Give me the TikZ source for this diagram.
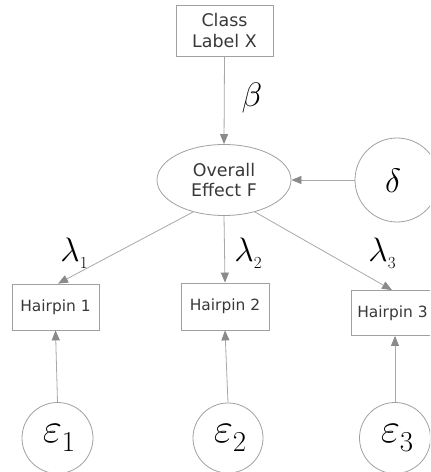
\RequirePackage{fix-cm}
\documentclass[tikz,border=0pt]{standalone}
\usepackage{fontspec}
\setmainfont{DejaVu Sans}
\usetikzlibrary{arrows.meta,shapes.geometric}
\definecolor{edgegray}{HTML}{A8A8A8}
\definecolor{tipgray}{HTML}{8A8A8A}
\definecolor{boxgray}{HTML}{A0A0A0}
\definecolor{txtgray}{HTML}{383838}
\newcommand{\grk}[1]{\fontsize{34}{36}\selectfont$#1$}
\newcommand{\lsub}[2]{\fontsize{34}{36}\selectfont$#1$\raisebox{-7bp}{\fontsize{17}{18}\selectfont$#2$}}
\newcommand{\esub}[2]{\fontsize{42}{44}\selectfont$#1$\raisebox{-9bp}{\fontsize{29}{30}\selectfont$#2$}}
\begin{document}
\begin{tikzpicture}[x=1bp,y=-1bp,
  boxnode/.style={draw=boxgray,line width=0.8bp,rectangle,text=txtgray,inner sep=0pt,align=center},
  ellnode/.style={draw=boxgray,line width=0.8bp,ellipse,text=txtgray,inner sep=0pt,align=center,minimum width=134bp,minimum height=71bp},
  circnode/.style={draw=boxgray,line width=0.8bp,circle,inner sep=0pt},
  greeklabel/.style={inner sep=0pt,text=black},
  link/.style={draw=edgegray,line width=0.8bp,-{Triangle[length=10bp,width=8bp,fill=tipgray,color=tipgray]}}]
\useasboundingbox (0,0) rectangle (430,472);
\begin{scope}
\clip (0,0) rectangle (430,472);
\node[boxnode,minimum width=97bp,minimum height=51bp,font=\fontsize{17.5}{21}\selectfont] (cls) at (224.5,30.5) {Class\\Label X};
\node[ellnode,font=\fontsize{17.5}{21}\selectfont] (F) at (224,180) {Overall\\Effect F};
\node[circnode,minimum size=84bp] (delta) at (397,180) {};
\node[greeklabel] (dlab) at (393,181) {\grk{\delta}};
\node[boxnode,minimum width=87bp,minimum height=46bp,font=\fontsize{15.5}{18}\selectfont] (h1) at (55.5,307) {Hairpin 1};
\node[boxnode,minimum width=88bp,minimum height=47bp,font=\fontsize{15.5}{18}\selectfont] (h2) at (225,306.5) {Hairpin 2};
\node[boxnode,minimum width=88bp,minimum height=45bp,font=\fontsize{15.5}{18}\selectfont] (h3) at (395,313) {\hspace*{-5bp}Hairpin 3};
\node[circnode,minimum size=71bp] (e1) at (57.5,438) {};
\node[circnode,minimum size=70bp] (e2) at (228,438) {};
\node[circnode,minimum size=71bp] (e3) at (395,438) {};
\node[greeklabel] (e1lab) at (59,438) {\esub{\varepsilon}{1}};
\node[greeklabel] (e2lab) at (230,438) {\esub{\varepsilon}{2}};
\node[greeklabel] (e3lab) at (397,438) {\esub{\varepsilon}{3}};
\node[greeklabel] (blab) at (252,98) {\grk{\beta}};
\node[greeklabel] (l1) at (74,253) {\lsub{\lambda}{1}};
\node[greeklabel] (l2) at (248,253) {\lsub{\lambda}{2}};
\node[greeklabel] (l3) at (382,253) {\lsub{\lambda}{3}};
\draw[link] (cls.south) -- (F.north);
\draw[link] (delta.west) -- (F.east);
\draw[link] (F.226) -- ([xshift=2.5bp]h1.north);
\draw[link] (F.south) -- (h2.north);
\draw[link] (F.-46) -- ([xshift=-3bp]h3.north);
\draw[link] (e1.north) -- (h1.south);
\draw[link] (e2.north) -- (h2.south);
\draw[link] (e3.north) -- (h3.south);
\end{scope}
\end{tikzpicture}
\end{document}
